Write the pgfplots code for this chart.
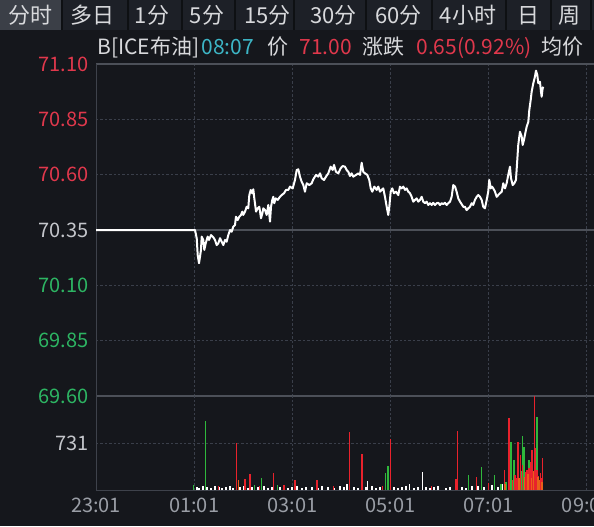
\documentclass[border=0pt]{standalone}
\usepackage{pgfplots}
\pgfplotsset{compat=1.18}
\usepackage{fontspec}
\setmainfont{Noto Sans CJK SC}
\definecolor{bg}{HTML}{15171C}
\definecolor{tabbg}{HTML}{1D2027}
\definecolor{tabsel}{HTML}{3B3F47}
\definecolor{tabsep}{HTML}{0E1013}
\definecolor{tabtxt}{HTML}{D8D9DC}
\definecolor{cred}{HTML}{E0384C}
\definecolor{cgreen}{HTML}{2DB563}
\definecolor{cwhite}{HTML}{C4C6CB}
\definecolor{cgray}{HTML}{9A9EA6}
\definecolor{ccyan}{HTML}{3DB6C6}
\definecolor{dotgrid}{HTML}{3A3F4A}
\definecolor{solidgrid}{HTML}{4C5058}
\definecolor{framecol}{HTML}{3E424B}
\definecolor{vred}{HTML}{E8222C}
\definecolor{vgreen}{HTML}{2FB83C}
\definecolor{vorange}{HTML}{E8601A}
\begin{document}
\begin{tikzpicture}
\useasboundingbox (0,0) rectangle (297pt,263pt);
\clip (0,0) rectangle (297pt,263pt);
\fill[bg] (0,0) rectangle (297pt,263pt);
\begin{scope}[x=0.5pt,y=-0.5pt,shift={(0,263pt)}]
  % tab bar
  \fill[tabbg] (0,0) rectangle (594,30);
  \fill[tabsel] (0,0) rectangle (61,30);
  \foreach \s in {62,128,182,235,294,366,432,506,551,591}{
    \fill[tabsep] (\s-1,0) rectangle (\s+1,30);
  }
  \begin{scope}[every node/.style={inner sep=0pt, anchor=base, text=tabtxt, font=\fontsize{11}{13}\selectfont}]
    \node at (30.5,24) {分时};
    \node at (92.5,24) {多日};
    \node at (152,24) {1分};
    \node at (207,24) {5分};
    \node at (267.5,24) {15分};
    \node at (333.5,24) {30分};
    \node at (398.5,24) {60分};
    \node at (468,24) {4小时};
    \node at (528.5,24) {日};
    \node at (569,24) {周};
  \end{scope}
  % info line
  \begin{scope}[every node/.style={inner sep=0pt, anchor=base west, font=\fontsize{10.5}{12}\selectfont}]
    \node[text=tabtxt] at (97,54.5) {B[ICE布油]};
    \node[text=ccyan] at (201,54.5) {08:07};
    \node[text=tabtxt] at (267,54.5) {价};
    \node[text=cred] at (299,54.5) {71.00};
    \node[text=tabtxt] at (362,54.5) {涨跌};
    \node[text=cred] at (416,54.5) {0.65(0.92\%)};
    \node[text=tabtxt] at (541,54.5) {均价};
  \end{scope}
\end{scope}

% ---------------- price panel ----------------
\begin{axis}[
  at={(48pt,65pt)}, anchor=south west,
  scale only axis, width=249pt, height=166pt,
  xmin=0, xmax=608.7, ymin=69.60, ymax=71.10,
  axis line style={draw=none}, tick style={draw=none},
  xtick={120,240,360,480,600}, xticklabel=\empty,
  ytick={69.85,70.10,70.60,70.85},
  yticklabels={\textcolor{cgreen}{69.85},\textcolor{cgreen}{70.10},\textcolor{cred}{70.60},\textcolor{cred}{70.85}},
  extra y ticks={69.60,70.35,71.10},
  extra y tick labels={\textcolor{cgreen}{69.60},\textcolor{cwhite}{70.35},\textcolor{cred}{71.10}},
  extra y tick style={grid=major, major grid style={solid, draw=solidgrid, line width=0.6pt}},
  grid=major,
  major grid style={draw=dotgrid, line width=0.5pt, dash pattern=on 1.2pt off 1pt},
  yticklabel style={font=\fontsize{10}{12}\selectfont, inner sep=0pt, xshift=-3.5pt, anchor=east},
  clip=false,
]
\draw[framecol, line width=0.5pt] (rel axis cs:0,0) -- (rel axis cs:0,1);
\addplot[white, line width=1pt, line join=round] coordinates {
(0,70.350) (118.9,70.350) (121.0,70.350) (123.1,70.313) (124.3,70.237) (125.9,70.200) (127.1,70.229)
(128.3,70.260) (129.2,70.320) (131.1,70.305) (132.4,70.260) (134.1,70.290) (136.5,70.320) (138.1,70.305)
(140.6,70.327) (143.4,70.317) (145.4,70.305) (147.5,70.282) (149.5,70.290) (151.6,70.313) (153.6,70.297)
(155.6,70.282) (157.7,70.305) (159.7,70.297) (161.7,70.327) (163.8,70.350) (165.8,70.342) (167.8,70.365)
(169.9,70.373) (171.1,70.410) (173.2,70.395) (175.1,70.410) (177.2,70.418) (178.8,70.433) (180.0,70.418)
(182.1,70.433) (184.2,70.455) (186.1,70.448) (187.4,70.508) (189.1,70.531) (191.0,70.516) (192.3,70.534)
(193.5,70.493) (194.3,70.471) (195.6,70.433) (197.6,70.448) (199.6,70.455) (201.7,70.403) (203.3,70.425)
(204.5,70.448) (206.6,70.440) (208.6,70.418) (210.6,70.463) (212.7,70.388) (213.9,70.455) (215.5,70.486)
(216.7,70.500) (217.9,70.471) (219.6,70.493) (222.1,70.486) (224.9,70.500) (227.0,70.508) (229.8,70.516)
(232.2,70.531) (235.0,70.531) (237.1,70.546) (240.4,70.538) (243.2,70.576) (245.3,70.621) (247.3,70.624)
(249.3,70.591) (251.4,70.568) (253.4,70.553) (255.4,70.523) (257.5,70.561) (260.7,70.553) (263.6,70.561)
(265.6,70.579) (268.9,70.599) (271.7,70.591) (273.8,70.606) (275.8,70.584) (278.7,70.576) (281.1,70.591)
(283.9,70.606) (286.8,70.636) (289.3,70.621) (290.9,70.644) (293.3,70.613) (296.1,70.606) (299.1,70.629)
(301.5,70.639) (304.3,70.636) (306.4,70.621) (308.4,70.613) (310.4,70.594) (312.5,70.606) (314.5,70.591)
(317.8,70.599) (320.6,70.606) (322.7,70.599) (324.7,70.654) (326.7,70.613) (328.8,70.606) (331.6,70.599)
(334.0,70.576) (335.8,70.538) (337.7,70.523) (340.2,70.546) (343.1,70.531) (345.0,70.546) (347.1,70.523)
(349.2,70.531) (351.1,70.538) (353.2,70.500) (355.3,70.455) (357.2,70.418) (358.5,70.455) (360.2,70.523)
(362.1,70.538) (364.2,70.516) (366.7,70.523) (369.5,70.508) (371.5,70.546) (373.6,70.538) (375.6,70.546)
(377.7,70.531) (379.7,70.538) (381.7,70.523) (383.8,70.516) (385.8,70.500) (387.8,70.478) (389.9,70.486)
(391.9,70.493) (393.9,70.478) (396.0,70.486) (398.1,70.500) (400.0,70.478) (402.1,70.471) (404.2,70.478)
(406.1,70.463) (408.2,70.471) (410.3,70.463) (412.2,70.473) (414.3,70.463) (416.4,70.471) (418.4,70.473)
(420.4,70.463) (422.5,70.471) (424.5,70.467) (426.5,70.473) (428.6,70.463) (430.6,70.471) (432.7,70.478)
(434.7,70.500) (436.7,70.553) (438.8,70.546) (440.8,70.523) (442.8,70.493) (444.9,70.478) (446.9,70.467)
(448.9,70.455) (451.0,70.455) (453.0,70.440) (455.0,70.448) (457.1,70.455) (459.2,70.471) (461.1,70.463)
(463.2,70.486) (465.3,70.500) (467.2,70.508) (469.3,70.500) (471.4,70.486) (473.3,70.455) (475.4,70.448)
(477.5,70.486) (479.4,70.523) (480.7,70.576) (482.4,70.538) (484.0,70.546) (485.6,70.538) (487.7,70.523)
(489.7,70.500) (491.7,70.508) (493.8,70.516) (495.9,70.523) (497.8,70.561) (499.9,70.538) (501.9,70.561)
(503.9,70.599) (506.0,70.636) (507.2,70.584) (509.3,70.553) (511.2,70.561) (513.3,70.576) (514.9,70.666)
(516.1,70.734) (518.2,70.794) (520.3,70.772) (521.5,70.734) (523.1,70.757) (524.7,70.787) (526.4,70.817)
(528.4,70.839) (529.6,70.892) (531.3,70.937) (532.5,70.975) (534.5,71.013) (536.5,71.043) (537.8,71.070)
(539.4,71.050) (540.6,71.013) (542.6,71.020) (543.9,70.975) (544.7,70.952) (545.9,70.990) (546.7,70.997)
};
\end{axis}

% ---------------- volume panel ----------------
\begin{axis}[
  at={(48pt,18pt)}, anchor=south west,
  scale only axis, width=249pt, height=47pt,
  xmin=0, xmax=608.7, ymin=0, ymax=1462,
  axis line style={draw=none}, tick style={draw=none},
  xtick={0,120,240,360,480,600},
  xticklabels={23:01,01:01,03:01,05:01,07:01,09:01},
  ytick={731}, yticklabels={\textcolor{cwhite}{731}},
  grid=major,
  major grid style={draw=dotgrid, line width=0.5pt, dash pattern=on 1.2pt off 1pt},
  yticklabel style={font=\fontsize{10}{12}\selectfont, inner sep=0pt, xshift=-3.5pt, anchor=east},
  xticklabel style={font=\fontsize{10}{12}\selectfont, text=cgray, inner sep=0pt, yshift=-4pt, anchor=north},
  clip=false,
]
\draw[framecol, line width=0.5pt] (rel axis cs:0,1) -- (rel axis cs:0,0) -- (rel axis cs:1,0);
\addplot[ycomb, white, line width=0.7pt, mark=none] coordinates {
(123.4,45) (125.9,31) (130.8,55) (135.6,40) (140.5,31) (145.4,62) (150.3,40) (154.0,31) (158.9,47)
(163.7,55) (167.4,31) (176.0,40) (180.9,62) (185.7,31) (190.6,47) (198.0,40) (205.3,55) (210.2,31)
(215.1,47) (224.8,40) (229.7,62) (234.6,31) (239.5,47) (245.6,55) (251.7,31) (256.6,40) (263.9,47)
(271.3,31) (276.2,55) (283.5,40) (290.8,31) (298.2,62) (303.1,40) (307,93) (315.3,47) (320.2,31)
(329.9,40) (332,145) (337.3,55) (342.2,31) (347.0,47) (364.2,40) (369.0,31) (373.9,47) (378.8,55)
(383,93) (388.6,31) (393.5,40) (399,285) (403.3,47) (408.1,31) (413.0,40) (417.9,55) (427.7,31)
(432.6,47) (447.3,40) (452.1,31) (459.5,55) (466.8,62) (474.2,40) (484.0,78) (491.3,47) (496.1,93)
(512,62) (516,156)
};
\addplot[ycomb, vgreen, line width=0.7pt, mark=none] coordinates {
(119,78) (134,1078) (194,78) (202,191) (222,78) (354,260) (357,373) (455,233) (471,362) (487,233)
(495,100) (501,120) (507,751) (511,467) (520,300) (521,840) (523,673) (529,467) (534,250) (539,1140)
};
\addplot[ycomb, vred, line width=0.7pt, mark=none] coordinates {
(150,60) (172,726) (182,171) (188,249) (200,70) (217,260) (230,80) (243,156) (270,156) (290,60)
(310,897) (325,560) (350,55) (360,788) (410,60) (440,166) (442,922) (465,207) (480,109) (499,311)
(505,1115) (509,156) (512,233) (514,187) (516,751) (519,544) (521,389) (525,280) (527,311) (529,342)
(531,435) (533,622) (536,1460) (537,648) (539,311) (541,218) (543,260) (544,187) (546,493)
};
\addplot[ycomb, vorange, line width=0.7pt, mark=none] coordinates {
(174,156) (500,100) (517,180) (524,200) (528,250) (532,180) (535,300) (540,200) (542,150) (545,120)
};
\end{axis}
\end{tikzpicture}
\end{document}
